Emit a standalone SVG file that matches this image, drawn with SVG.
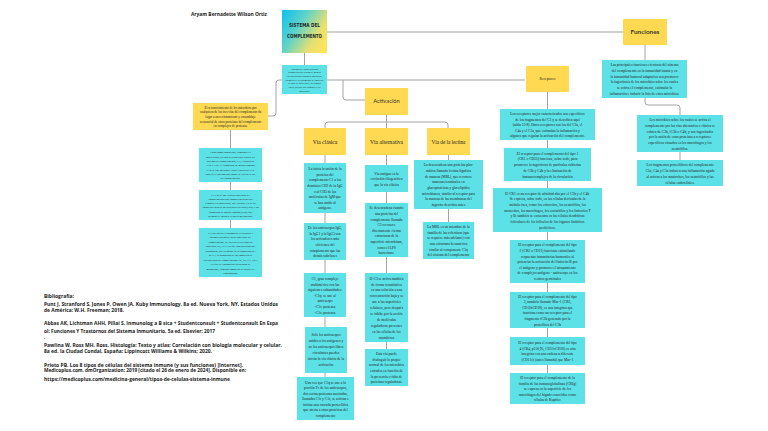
<svg xmlns="http://www.w3.org/2000/svg" width="768" height="431" viewBox="0 0 768 431">
<defs>
<linearGradient id="tg" x1="0" y1="0.2" x2="1" y2="0.8">
<stop offset="0" stop-color="#1cc3e8"/>
<stop offset="0.35" stop-color="#5fd3c8"/>
<stop offset="0.75" stop-color="#e8e070"/>
<stop offset="1" stop-color="#ffe35a"/>
</linearGradient>
<style>
.y{fill:#ffd952}
.c{fill:#5ce1e6}
.ln{stroke:#a3a3a3;stroke-width:1;fill:none}
.t{font-family:"Liberation Serif","Times New Roman",serif;fill:#1e1e1e;text-anchor:middle}
.s{font-size:3.6px}
.xs{font-size:2.8px}
.v{font-size:5.6px}
.b{font-family:"Open Sans","Liberation Sans",sans-serif;font-weight:bold;fill:#1a1a1a;font-size:4.6px}
</style>
</defs>
<rect width="768" height="431" fill="#ffffff"/>
<text class="b" x="191" y="15.5" font-size="5" textLength="76" lengthAdjust="spacingAndGlyphs">Aryam Bernadette Wilson Ortiz</text>
<g id="connectors">
<line class="ln" x1="327" y1="32" x2="623" y2="32"/>
<line class="ln" x1="304.5" y1="53" x2="304.5" y2="65"/>
<path class="ln" d="M268 116 H273 Q276 116 276 113 V83 Q276 80 279 80 H525"/>
<path class="ln" d="M343 80 V97 Q343 100 346 100 H365"/>
<line class="ln" x1="386.5" y1="115" x2="386.5" y2="122"/>
<path class="ln" d="M325 128 V125 Q325 122 328 122 H445 Q448 122 448 125 V128"/>
<line class="ln" x1="386.5" y1="122" x2="386.5" y2="128"/>
<line class="ln" x1="325" y1="155" x2="325" y2="377"/>
<line class="ln" x1="386.5" y1="155" x2="386.5" y2="349"/>
<line class="ln" x1="448.5" y1="155" x2="448.5" y2="222"/>
<line class="ln" x1="230.5" y1="130" x2="230.5" y2="228"/>
<line class="ln" x1="547.5" y1="92" x2="547.5" y2="373"/>
<line class="ln" x1="645" y1="45" x2="645" y2="60"/>
<path class="ln" d="M645 98 V102 Q645 105 648 105 H677 Q680 105 680 108 V115"/>
<line class="ln" x1="680" y1="152" x2="680" y2="160"/>
</g>
<g id="titulo">
<rect x="282" y="10" width="45" height="43" fill="url(#tg)"/>
<text x="304.5" y="27" font-family="'Liberation Sans Narrow','DejaVu Sans Condensed','Liberation Sans',sans-serif" font-weight="bold" font-size="5.6" fill="#1d2a2a" text-anchor="middle" textLength="31" lengthAdjust="spacingAndGlyphs">SISTEMA DEL</text>
<text x="304.5" y="38" font-family="'Liberation Sans Narrow','DejaVu Sans Condensed','Liberation Sans',sans-serif" font-weight="bold" font-size="5.6" fill="#1d2a2a" text-anchor="middle" textLength="35" lengthAdjust="spacingAndGlyphs">COMPLEMENTO</text>
</g>
<g id="definicion">
<rect class="c" x="282" y="65" width="45" height="29"/>
<text class="t" font-size="2.4" x="304.5" y="69.5"><tspan x="304.5">Conjunto de varias proteínas</tspan><tspan x="304.5" dy="3.7">plasmáticas que actúan de manera</tspan><tspan x="304.5" dy="3.7">en cascada para opsonizar microbios,</tspan><tspan x="304.5" dy="3.7">promover el reclutamiento de fagocitos</tspan><tspan x="304.5" dy="3.7">al lugar de infección y, en algunos</tspan><tspan x="304.5" dy="3.7">casos, destruir directamente a los</tspan><tspan x="304.5" dy="3.7">microbios.</tspan></text>
</g>
<g id="funciones">
<rect class="y" x="623" y="19" width="44" height="26"/>
<text x="645" y="34.2" font-family="Lato,'Open Sans',sans-serif" font-weight="bold" font-size="6.4" fill="#3a3a2a" text-anchor="middle">Funciones</text>
</g>
<g id="funciones-1">
<rect class="c" x="602" y="60" width="85" height="38"/>
<text class="t s" x="644.5" y="66"><tspan x="644.5">Las principales funciones efectoras del sistema</tspan><tspan x="644.5" dy="5.8">del complemento en la inmunidad innata y en</tspan><tspan x="644.5" dy="5.8">la inmunidad humoral adaptativa son promover</tspan><tspan x="644.5" dy="5.8">la fagocitosis de los microbios sobre los cuales</tspan><tspan x="644.5" dy="5.8">se activa el complemento, estimular la</tspan><tspan x="644.5" dy="5.8">inflamación e inducir la lisis de estos microbios.</tspan></text>
</g>
<g id="funciones-2">
<rect class="c" x="637" y="115" width="86" height="37"/>
<text class="t s" x="680" y="121"><tspan x="680">Los microbios sobre los cuales se activa el</tspan><tspan x="680" dy="5.8">complemento por las vías alternativa o clásica se</tspan><tspan x="680" dy="5.8">cubren de C3b, iC3b o C4b, y son fagocitados</tspan><tspan x="680" dy="5.8">por la unión de estas proteínas a receptores</tspan><tspan x="680" dy="5.8">específicos situados en los macrófagos y los</tspan><tspan x="680" dy="5.8">neutrófilos.</tspan></text>
</g>
<g id="funciones-3">
<rect class="c" x="637" y="160" width="86" height="26"/>
<text class="t s" x="680" y="166.2"><tspan x="680">Los fragmentos proteolíticos del complemento</tspan><tspan x="680" dy="5.8">C5a, C4a y C3a inducen una inflamación aguda</tspan><tspan x="680" dy="5.8">al activar a los mastocitos, los neutrófilos y las</tspan><tspan x="680" dy="5.8">células endoteliales.</tspan></text>
</g>
<g id="reconocimiento">
<rect class="y" x="193" y="103" width="75" height="27"/>
<text class="t" font-size="3.3" x="230.5" y="108.8"><tspan x="230.5">El reconocimiento de los microbios por</tspan><tspan x="230.5" dy="4.6">cualquiera de las tres vías del complemento da</tspan><tspan x="230.5" dy="4.6">lugar a un reclutamiento y ensamblaje</tspan><tspan x="230.5" dy="4.6">secuencial de otras proteínas del complemento</tspan><tspan x="230.5" dy="4.6">en complejos de proteasa.</tspan></text>
</g>
<g id="convertasa-c3">
<rect class="c" x="199" y="148" width="63" height="34"/>
<text class="t xs" x="230.5" y="153.4"><tspan x="230.5">Estos como complejos, llamados C3</tspan><tspan x="230.5" dy="4.3">convertasas, escinden la proteína central del</tspan><tspan x="230.5" dy="4.3">sistema del complemento, C3, y producen</tspan><tspan x="230.5" dy="4.3">C3a y C3b. El fragmento de mayor tamaño</tspan><tspan x="230.5" dy="4.3">C3b se une mediante enlace covalente a la</tspan><tspan x="230.5" dy="4.3">superficie microbiana donde se activó la vía</tspan><tspan x="230.5" dy="4.3">del complemento.</tspan></text>
</g>
<g id="convertasa-c5">
<rect class="c" x="199" y="190" width="63" height="30"/>
<text class="t xs" x="230.5" y="195.5"><tspan x="230.5">El C3b se une a otras proteínas del</tspan><tspan x="230.5" dy="4.3">complemento para formar una proteasa</tspan><tspan x="230.5" dy="4.3">llamada C5 convertasa, que escinde C5 de tal</tspan><tspan x="230.5" dy="4.3">forma que genera un péptido secretado (C5a) y un</tspan><tspan x="230.5" dy="4.3">fragmento de mayor tamaño (C5b) que</tspan><tspan x="230.5" dy="4.3">permanece unido a la pared microbiana.</tspan></text>
</g>
<g id="mac">
<rect class="c" x="199" y="228" width="63" height="49"/>
<text class="t xs" x="230.5" y="233.6"><tspan x="230.5">El C5b inicia el ensamblaje secuencial y</tspan><tspan x="230.5" dy="4.5">polimerización de otras proteínas del</tspan><tspan x="230.5" dy="4.5">complemento, de las cuales tres son las</tspan><tspan x="230.5" dy="4.5">proteínas C6, C7 y C8 que son parcialmente</tspan><tspan x="230.5" dy="4.5">hidrófobas, que culmina en la formación del</tspan><tspan x="230.5" dy="4.5">MAC; la formación de un complejo de</tspan><tspan x="230.5" dy="4.5">las proteínas del complemento C5, C6, C7, C8 y</tspan><tspan x="230.5" dy="4.5">C9 que se ensamblan en un poro de</tspan><tspan x="230.5" dy="4.5">membrana, llamado complejo de ataque de</tspan><tspan x="230.5" dy="4.5">la membrana.</tspan></text>
</g>
<g id="activacion">
<rect class="y" x="365" y="88" width="43" height="27"/>
<text x="386.5" y="103.2" font-family="Lato,'Open Sans',sans-serif" font-size="5.8" fill="#3a3a2a" text-anchor="middle">Activación</text>
</g>
<g id="via-clasica">
<rect class="y" x="304" y="128" width="42" height="27"/>
<text class="t v" x="325" y="143.5">Vía clásica</text>
</g>
<g id="via-alternativa">
<rect class="y" x="365" y="128" width="43" height="27"/>
<text class="t v" x="386.5" y="143.5">Vía alternativa</text>
</g>
<g id="via-lectina">
<rect class="y" x="427" y="128" width="43" height="27"/>
<text class="t" font-size="5.2" x="448.5" y="143.5">Vía de la lectina</text>
</g>
<g id="clasica-1">
<rect class="c" x="304" y="163" width="42" height="50"/>
<text class="t s" x="325" y="170.1"><tspan x="325">La inicia la unión de la</tspan><tspan x="325" dy="5.6">proteína del</tspan><tspan x="325" dy="5.6">complemento C1 a los</tspan><tspan x="325" dy="5.6">dominios CH2 de la IgG</tspan><tspan x="325" dy="5.6">o al CH3 de las</tspan><tspan x="325" dy="5.6">moléculas de IgM que</tspan><tspan x="325" dy="5.6">se han unido al</tspan><tspan x="325" dy="5.6">antígeno.</tspan></text>
</g>
<g id="clasica-2">
<rect class="c" x="304" y="223" width="42" height="37"/>
<text class="t s" x="325" y="229.2"><tspan x="325">De los anticuerpos IgG,</tspan><tspan x="325" dy="5.6">la IgG1 y la IgG3 son</tspan><tspan x="325" dy="5.6">los activadores más</tspan><tspan x="325" dy="5.6">eficientes del</tspan><tspan x="325" dy="5.6">complemento que las</tspan><tspan x="325" dy="5.6">demás subclases</tspan></text>
</g>
<g id="clasica-3">
<rect class="c" x="304" y="273" width="42" height="44"/>
<text class="t s" x="325" y="279.9"><tspan x="325">C1, gran complejo</tspan><tspan x="325" dy="5.6">multimérico con las</tspan><tspan x="325" dy="5.6">siguientes subunidades:</tspan><tspan x="325" dy="5.6">-C1q: se une al</tspan><tspan x="325" dy="5.6">anticuerpo</tspan><tspan x="325" dy="5.6">-C1r: proteasa</tspan><tspan x="325" dy="5.6">-C1s: proteasa</tspan></text>
</g>
<g id="clasica-4">
<rect class="c" x="305" y="327" width="42" height="46"/>
<text class="t s" x="326" y="336"><tspan x="326">Solo los anticuerpos</tspan><tspan x="326" dy="6">unidos a los antígenos y</tspan><tspan x="326" dy="6">no los anticuerpos libres</tspan><tspan x="326" dy="6">circulantes pueden</tspan><tspan x="326" dy="6">iniciar la vía clásica de la</tspan><tspan x="326" dy="6">activación</tspan></text>
</g>
<g id="clasica-5">
<rect class="c" x="297" y="377" width="57" height="43"/>
<text class="t s" x="325.5" y="383.6"><tspan x="325.5">Una vez que C1q se une a la</tspan><tspan x="325.5" dy="5.5">porción Fc de los anticuerpos,</tspan><tspan x="325.5" dy="5.5">dos serina proteasas asociadas,</tspan><tspan x="325.5" dy="5.5">llamadas C1r y C1s, se activan e</tspan><tspan x="325.5" dy="5.5">inician una cascada proteolítica</tspan><tspan x="325.5" dy="5.5">que afecta a otras proteínas del</tspan><tspan x="325.5" dy="5.5">complemento</tspan></text>
</g>
<g id="alternativa-1">
<rect class="c" x="365" y="165" width="43" height="27"/>
<text class="t s" x="386.5" y="174.6"><tspan x="386.5">Vía antigua en la</tspan><tspan x="386.5" dy="5.6">evolución filogenética</tspan><tspan x="386.5" dy="5.6">que la vía clásica</tspan></text>
</g>
<g id="alternativa-2">
<rect class="c" x="365" y="203" width="43" height="54"/>
<text class="t s" x="386.5" y="209.3"><tspan x="386.5">Se desencadena cuando</tspan><tspan x="386.5" dy="5.6">una proteína del</tspan><tspan x="386.5" dy="5.6">complemento llamada</tspan><tspan x="386.5" dy="5.6">C3 reconoce</tspan><tspan x="386.5" dy="5.6">directamente ciertas</tspan><tspan x="386.5" dy="5.6">estructuras de la</tspan><tspan x="386.5" dy="5.6">superficie microbiana,</tspan><tspan x="386.5" dy="5.6">como el LPS</tspan><tspan x="386.5" dy="5.6">bacteriano.</tspan></text>
</g>
<g id="alternativa-3">
<rect class="c" x="365" y="273" width="43" height="69"/>
<text class="t s" x="386.5" y="279.6"><tspan x="386.5">El C3 se activa también</tspan><tspan x="386.5" dy="5.9">de forma constitutiva</tspan><tspan x="386.5" dy="5.9">en una solución a una</tspan><tspan x="386.5" dy="5.9">concentración baja y se</tspan><tspan x="386.5" dy="5.9">une a las superficies</tspan><tspan x="386.5" dy="5.9">celulares, pero después</tspan><tspan x="386.5" dy="5.9">se inhibe por la acción</tspan><tspan x="386.5" dy="5.9">de moléculas</tspan><tspan x="386.5" dy="5.9">reguladoras presentes</tspan><tspan x="386.5" dy="5.9">en las células de los</tspan><tspan x="386.5" dy="5.9">mamíferos</tspan></text>
</g>
<g id="alternativa-4">
<rect class="c" x="365" y="349" width="43" height="37"/>
<text class="t s" x="386.5" y="355.2"><tspan x="386.5">Esta vía puede</tspan><tspan x="386.5" dy="5.6">distinguir lo propio</tspan><tspan x="386.5" dy="5.6">normal de los microbios</tspan><tspan x="386.5" dy="5.6">extraños en función de</tspan><tspan x="386.5" dy="5.6">la presencia o falta de</tspan><tspan x="386.5" dy="5.6">proteínas reguladoras.</tspan></text>
</g>
<g id="lectina-1">
<rect class="c" x="414" y="160" width="69" height="49"/>
<text class="t s" x="448.5" y="166.2"><tspan x="448.5">La desencadena una proteína plas-</tspan><tspan x="448.5" dy="5.7">mática llamada lectina ligadora</tspan><tspan x="448.5" dy="5.7">de manosa (MBL), que reconoce</tspan><tspan x="448.5" dy="5.7">manosas terminales en</tspan><tspan x="448.5" dy="5.7">glucoproteínas y glucolípidos</tspan><tspan x="448.5" dy="5.7">microbianos, similar al receptor para</tspan><tspan x="448.5" dy="5.7">la manosa de las membranas del</tspan><tspan x="448.5" dy="5.7">fagocito descritos antes</tspan></text>
</g>
<g id="lectina-2">
<rect class="c" x="423" y="222" width="51" height="37"/>
<text class="t s" x="448.5" y="227.9"><tspan x="448.5">La MBL es un miembro de la</tspan><tspan x="448.5" dy="5.7">familia de las colectinas (que</tspan><tspan x="448.5" dy="5.7">se requiere más adelante) con</tspan><tspan x="448.5" dy="5.7">una estructura hexamérica</tspan><tspan x="448.5" dy="5.7">similar al componente C1q</tspan><tspan x="448.5" dy="5.7">del sistema del complemento</tspan></text>
</g>
<g id="receptores">
<rect class="y" x="526" y="66" width="43" height="26"/>
<text class="t" font-size="3.6" x="547.5" y="80.3">Receptores</text>
</g>
<g id="receptores-1">
<rect class="c" x="500" y="109" width="95" height="31"/>
<text class="t s" x="547.5" y="115"><tspan x="547.5">Los receptores mejor caracterizados son específicos</tspan><tspan x="547.5" dy="5.6">de los fragmentos del C3 y se describen aquí</tspan><tspan x="547.5" dy="5.6">(tabla 13-8). Otros receptores son los del C3a, el</tspan><tspan x="547.5" dy="5.6">C4a y el C5a, que estimulan la inflamación y</tspan><tspan x="547.5" dy="5.6">algunos que regulan la activación del complemento.</tspan></text>
</g>
<g id="receptores-2">
<rect class="c" x="504" y="148" width="87" height="33"/>
<text class="t s" x="547.5" y="154.5"><tspan x="547.5">El receptor para el complemento del tipo 1</tspan><tspan x="547.5" dy="5.8">(CR1 o CD35) funciona, sobre todo, para</tspan><tspan x="547.5" dy="5.8">promover la fagocitosis de partículas cubiertas</tspan><tspan x="547.5" dy="5.8">de C3b y C4b y la eliminación de</tspan><tspan x="547.5" dy="5.8">inmunocomplejos de la circulación</tspan></text>
</g>
<g id="receptores-3">
<rect class="c" x="493" y="188" width="109" height="44"/>
<text class="t s" x="547.5" y="194.5"><tspan x="547.5">El CR1 es un receptor de afinidad alta por el C3b y el C4b.</tspan><tspan x="547.5" dy="5.7">Se expresa, sobre todo, en las células derivadas de la</tspan><tspan x="547.5" dy="5.7">médula ósea, como los eritrocitos, los neutrófilos, los</tspan><tspan x="547.5" dy="5.7">monocitos, los macrófagos, los eosinófilos y los linfocitos T</tspan><tspan x="547.5" dy="5.7">y B; también se encuentra en las células dendríticas</tspan><tspan x="547.5" dy="5.7">foliculares de los folículos de los órganos linfáticos</tspan><tspan x="547.5" dy="5.7">periféricos.</tspan></text>
</g>
<g id="receptores-4">
<rect class="c" x="510" y="240" width="75" height="43"/>
<text class="t s" x="547.5" y="246.3"><tspan x="547.5">El receptor para el complemento del tipo</tspan><tspan x="547.5" dy="5.6">2 (CR2 o CD21) funciona estimulando</tspan><tspan x="547.5" dy="5.6">respuestas inmunitarias humorales al</tspan><tspan x="547.5" dy="5.6">potenciar la activación del linfocito B por</tspan><tspan x="547.5" dy="5.6">el antígeno y promover el atrapamiento</tspan><tspan x="547.5" dy="5.6">de complejos antígeno - anticuerpo en los</tspan><tspan x="547.5" dy="5.6">centros germinales</tspan></text>
</g>
<g id="receptores-5">
<rect class="c" x="510" y="292" width="75" height="36"/>
<text class="t s" x="547.5" y="297.6"><tspan x="547.5">El receptor para el complemento del tipo</tspan><tspan x="547.5" dy="5.6">3, también llamado Mac-1 (CR3,</tspan><tspan x="547.5" dy="5.6">CD11bCD18), es una integrina que</tspan><tspan x="547.5" dy="5.6">funciona como un receptor para el</tspan><tspan x="547.5" dy="5.6">fragmento iC3b generado por la</tspan><tspan x="547.5" dy="5.6">proteólisis del C3b</tspan></text>
</g>
<g id="receptores-6">
<rect class="c" x="510" y="337" width="75" height="28"/>
<text class="t s" x="547.5" y="344.2"><tspan x="547.5">El receptor para el complemento del tipo</tspan><tspan x="547.5" dy="5.6">4 (CR4, p150,95, CD11cCD18) es otra</tspan><tspan x="547.5" dy="5.6">integrina con una cadena α diferente</tspan><tspan x="547.5" dy="5.6">(CD11c) (antes llamada) que Mac-1</tspan></text>
</g>
<g id="receptores-7">
<rect class="c" x="510" y="373" width="75" height="31"/>
<text class="t s" x="547.5" y="378.9"><tspan x="547.5">El receptor para el complemento de la</tspan><tspan x="547.5" dy="5.6">familia de las inmunoglobulinas (CRIg)</tspan><tspan x="547.5" dy="5.6">se expresa en la superficie de los</tspan><tspan x="547.5" dy="5.6">macrófagos del hígado conocidos como</tspan><tspan x="547.5" dy="5.6">células de Kupffer.</tspan></text>
</g>
<g id="bibliografia">
<text class="b" x="44" y="297.5" textLength="30" lengthAdjust="spacingAndGlyphs">Bibliografía:</text>
<text class="b" x="44" y="305.5" textLength="234" lengthAdjust="spacingAndGlyphs">Punt J, Stranford S, Jones P, Owen JA. Kuby Immunology. 8a ed. Nueva York, NY, Estados Unidos</text>
<text class="b" x="44" y="311.8" textLength="80" lengthAdjust="spacingAndGlyphs">de América: W.H. Freeman; 2018.</text>
<text class="b" x="44" y="325.2" textLength="234" lengthAdjust="spacingAndGlyphs">Abbas AK, Lichtman AHH, Pillai S. Inmunolog a B sica + Studentconsult + Studentconsult En Espa</text>
<text class="b" x="44" y="333" textLength="171" lengthAdjust="spacingAndGlyphs">ol: Funciones Y Trastornos del Sistema Inmunitario. 5a ed. Elsevier; 2017</text>
<text class="b" x="44" y="338.5">.</text>
<text class="b" x="44" y="346.8" textLength="238" lengthAdjust="spacingAndGlyphs">Pawlina W, Ross MH. Ross. Histología: Texto y atlas: Correlación con biología molecular y celular.</text>
<text class="b" x="44" y="352.8" textLength="168" lengthAdjust="spacingAndGlyphs">8a ed. la Ciudad Condal, España: Lippincott Williams &amp; Wilkins; 2020.</text>
<text class="b" x="44" y="366.5" textLength="199" lengthAdjust="spacingAndGlyphs">Prieto PB. Los 8 tipos de células del sistema inmune (y sus funciones) [Internet].</text>
<text class="b" x="44" y="372.4" textLength="202" lengthAdjust="spacingAndGlyphs">Medicoplus.com. dmOrganization; 2019 [citado el 26 de enero de 2024]. Disponible en:</text>
<text class="b" x="44" y="380.6" textLength="186" lengthAdjust="spacingAndGlyphs">https://medicoplus.com/medicina-general/tipos-de-celulas-sistema-inmune</text>
</g>
</svg>
